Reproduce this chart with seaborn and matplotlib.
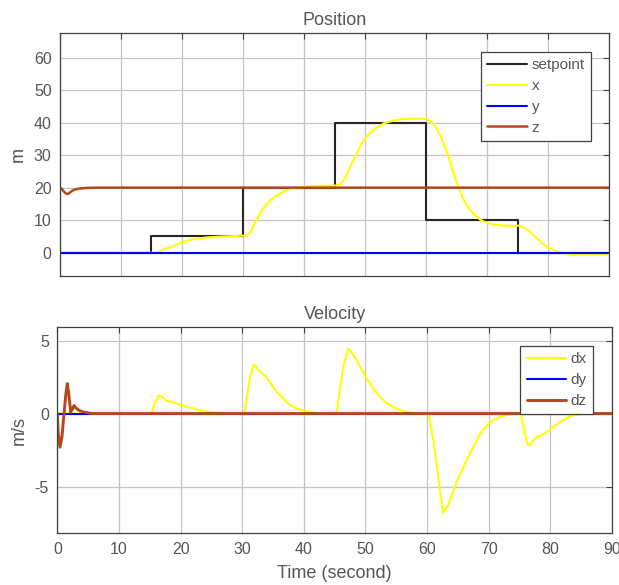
import matplotlib
matplotlib.use("Agg")
import matplotlib.pyplot as plt
import seaborn as sns

# ---------------- data ----------------
setpoint_t = [0, 15, 30, 45, 60, 75, 90]
setpoint_v = [0, 5, 20, 40, 10, 0, 0]

x_t = [0, 15, 15.9, 17, 18.6, 20, 20.8, 22, 24, 26, 28.4, 30.6, 31.0, 31.4, 32, 32.8, 33.9,
       35, 36.1, 37, 38.2, 40, 41.5, 43, 45, 45.9, 46.5, 47.5, 48.5, 49.5, 50.3, 51.5, 53,
       54.6, 56, 58, 60, 60.6, 61.5, 62.5, 63.7, 64.5, 65.3, 66.1, 66.9, 68, 69, 70, 71.2,
       73, 75.1, 75.8, 76.8, 78, 79, 80, 81.2, 82.2, 83.4, 85, 90]
x_v = [0, 0, 0, 1.0, 2.1, 3.2, 3.7, 4.2, 4.7, 4.95, 5.1, 5.3, 5.8, 7, 9.5, 12.1, 15,
       16.9, 18.2, 19.1, 19.8, 20.3, 20.5, 20.6, 20.6, 21.0, 22.3, 26, 30, 33.6, 35.8, 38, 39.7,
       40.6, 41.0, 41.2, 41.1, 40.5, 39, 35.5, 29.5, 24.5, 20.2, 16.5, 14.0, 11.5, 10.0, 9.2, 8.6,
       8.3, 8.3, 8.0, 6.8, 4.8, 2.9, 1.6, 0.6, 0.0, -0.35, -0.45, -0.45]

y_t = [0, 90]
y_v = [0, 0]

z_t = [0, 0.3, 0.6, 0.9, 1.2, 1.5, 1.9, 2.4, 3.0, 3.6, 4.3, 5.3, 6.5, 90]
z_v = [20, 19.6, 18.9, 18.3, 18.0, 18.3, 18.9, 19.4, 19.65, 19.8, 19.9, 19.97, 20, 20]

dx_t = [0, 15.3, 15.8, 16.4, 17.0, 17.75, 18.56, 19.3, 20.2, 21.6, 23.15, 24.5, 25.9, 28,
        30.35, 30.8, 31.27, 31.9, 32.6, 33.7, 34.6, 35.6, 36.7, 37.75, 38.8, 39.9, 41.2, 42.6,
        44.0, 45.3, 45.8, 46.4, 47.2, 47.9, 48.6, 49.4, 50.2, 51.3, 52.35, 53.4, 54.5, 55.6,
        56.7, 58.3, 60.2, 60.6, 61.0, 61.4, 61.8, 62.2, 62.6, 63.4, 64.25, 65.3, 66.4, 67.5,
        68.6, 69.6, 70.7, 71.8, 72.9, 75.1, 75.5, 75.9, 76.3, 76.7, 77.2, 77.8, 78.6, 79.4,
        80.5, 81.6, 82.6, 83.7, 85.5, 90]
dx_v = [0, 0, 0.7, 1.25, 1.15, 0.87, 0.8, 0.7, 0.57, 0.4, 0.23, 0.12, 0.07, 0.02,
        0, 1.2, 2.5, 3.35, 3.0, 2.6, 2.1, 1.5, 1.0, 0.6, 0.35, 0.2, 0.1, 0.03,
        -0.03, 0, 1.5, 3.2, 4.45, 4.1, 3.65, 3.0, 2.4, 1.7, 1.14, 0.75, 0.45, 0.25,
        0.1, 0.02, 0, -0.8, -1.83, -3.0, -4.3, -5.6, -6.8, -6.3, -5.25, -4.2, -3.2, -2.3,
        -1.37, -0.85, -0.46, -0.25, -0.1, 0.05, -0.5, -1.5, -2.1, -2.17, -1.85, -1.6, -1.45, -1.26,
        -0.9, -0.57, -0.3, -0.12, -0.03, 0]

dy_t = [0, 90]
dy_v = [0, 0]

dz_t = [0, 0.15, 0.44, 0.75, 1.09, 1.4, 1.62, 1.9, 2.17, 2.45, 2.7, 3.1, 3.6, 4.3, 5.3, 6, 90]
dz_v = [0, -1.4, -2.3, -1.6, 0, 1.4, 2.05, 1.2, 0.1, 0.3, 0.55, 0.35, 0.2, 0.1, 0.02, 0, 0]

pos_yticks = [0, 10, 20, 30, 40, 50, 60]
vel_yticks = [-5, 0, 5]
time_ticks = [0, 10, 20, 30, 40, 50, 60, 70, 80, 90]

# ---------------- style ----------------
sns.set_style("white")
plt.rcParams['font.family'] = ['Liberation Sans', 'DejaVu Sans']
plt.rcParams['axes.unicode_minus'] = False
TXT = "#555555"
C_SP, C_X, C_Y, C_Z = "#262626", "#ffff00", "#0000ff", "#b5471a"

fig = plt.figure(figsize=(6.19, 5.85), dpi=100)
ax1 = fig.add_axes([0.0969, 0.528, 0.887, 0.4154])
ax2 = fig.add_axes([0.0926, 0.0884, 0.896, 0.352])

def style(ax):
    ax.set_xlim(0, 90)
    ax.set_xticks(time_ticks)
    ax.grid(True, color="#c4c4c4", lw=0.9)
    ax.set_axisbelow(True)
    for s in ax.spines.values():
        s.set_color("#404040")
        s.set_linewidth(0.9)
    ax.tick_params(direction="in", length=4, top=True, right=True, pad=6,
                   colors="#404040", labelcolor=TXT, labelsize=11.5)

lw = 1.5
sns.lineplot(x=setpoint_t, y=setpoint_v, ax=ax1, color=C_SP, lw=lw, label="setpoint",
             drawstyle="steps-post", sort=False, estimator=None)
sns.lineplot(x=x_t, y=x_v, ax=ax1, color=C_X, lw=lw, label="x", sort=False, estimator=None)
sns.lineplot(x=y_t, y=y_v, ax=ax1, color=C_Y, lw=lw, label="y", sort=False, estimator=None)
sns.lineplot(x=z_t, y=z_v, ax=ax1, color=C_Z, lw=lw + 0.3, label="z", sort=False, estimator=None)
style(ax1)
ax1.set_ylim(-7.2, 67.5)
ax1.set_yticks(pos_yticks)
ax1.tick_params(labelbottom=False)
ax1.set_title("Position", color=TXT, fontsize=13, pad=6)
ax1.set_ylabel("m", color=TXT, fontsize=13, labelpad=5)
ax1.set_xlabel("")

sns.lineplot(x=dx_t, y=dx_v, ax=ax2, color=C_X, lw=lw, label="dx", sort=False, estimator=None)
sns.lineplot(x=dy_t, y=dy_v, ax=ax2, color=C_Y, lw=lw, label="dy", sort=False, estimator=None)
sns.lineplot(x=dz_t, y=dz_v, ax=ax2, color=C_Z, lw=lw + 0.6, label="dz", sort=False, estimator=None)
style(ax2)
ax2.set_ylim(-8.2, 5.9)
ax2.set_yticks(vel_yticks)
ax2.set_title("Velocity", color=TXT, fontsize=13, pad=6)
ax2.set_ylabel("m/s", color=TXT, fontsize=13, labelpad=5)
ax2.set_xlabel("Time (second)", color=TXT, fontsize=13, labelpad=6)

for ax, anchor in ((ax1, (0.967, 0.922)), (ax2, (0.966, 0.909))):
    leg = ax.legend(loc="upper right", bbox_to_anchor=anchor, borderaxespad=0,
                    fancybox=False, framealpha=1, edgecolor="#404040",
                    fontsize=11, handlelength=2.6, handletextpad=0.3,
                    labelspacing=0.45, borderpad=0.4)
    leg.get_frame().set_linewidth(0.9)
    for t in leg.get_texts():
        t.set_color(TXT)

fig.savefig("out.png", dpi=100)
